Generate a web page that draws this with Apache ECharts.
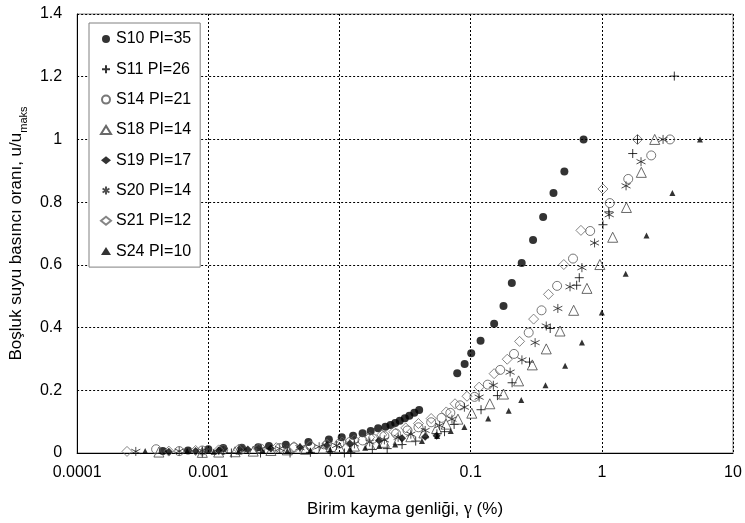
<!DOCTYPE html>
<html>
<head>
<meta charset="utf-8">
<script src="https://cdn.jsdelivr.net/npm/echarts@6/dist/echarts.min.js"></script>
<style>
html,body{margin:0;padding:0;background:#fff;}
#c{width:745px;height:523px;}
</style>
</head>
<body>
<div id="c"></div>
<script>
// ---- data ----
var seriesNames = ['S10 PI=35','S11 PI=26','S14 PI=21','S18 PI=14','S19 PI=17','S20 PI=14','S21 PI=12','S24 PI=10'];
var xTickLabels = ['0.0001','0.001','0.01','0.1','1','10'];
var yTickLabels = ['0','0.2','0.4','0.6','0.8','1','1.2','1.4'];

var s10x = [0.00045,0.0007,0.001,0.0013,0.0018,0.0024,0.0029,0.0039,0.0058,0.0083,0.0104,0.0127,0.015,0.0173,0.0197,0.0224,0.0245,0.0266,0.0288,0.0315,0.0341,0.0372,0.0405,0.079,0.090,0.101,0.119,0.151,0.178,0.206,0.245,0.299,0.357,0.428,0.518,0.726];
var s10y = [0.006,0.008,0.012,0.016,0.017,0.018,0.022,0.026,0.035,0.043,0.050,0.055,0.063,0.070,0.079,0.084,0.089,0.096,0.103,0.111,0.119,0.128,0.137,0.254,0.284,0.318,0.358,0.412,0.469,0.542,0.606,0.679,0.753,0.829,0.898,1.0];

var s11x = [0.0009,0.0015,0.0025,0.0042,0.006,0.0085,0.0109,0.0122,0.0178,0.0231,0.030,0.0381,0.0553,0.0632,0.0748,0.120,0.160,0.207,0.281,0.404,0.643,0.673,1.02,1.13,1.72,1.87,3.57];
var s11y = [0.0,0.0,0.0,0.0,0.002,0.004,0.0,0.001,0.011,0.014,0.027,0.038,0.061,0.068,0.091,0.138,0.183,0.224,0.29,0.397,0.535,0.559,0.728,0.769,0.955,1.0,1.202];

var s14x = [0.0004,0.0006,0.0009,0.0013,0.0018,0.0025,0.0035,0.0045,0.006,0.008,0.010,0.012,0.015,0.018,0.022,0.027,0.033,0.040,0.050,0.060,0.070,0.083,0.107,0.135,0.168,0.214,0.277,0.347,0.456,0.603,0.815,1.15,1.59,2.38,3.31];
var s14y = [0.012,0.006,0.008,0.010,0.012,0.014,0.016,0.018,0.022,0.026,0.030,0.035,0.040,0.046,0.054,0.062,0.072,0.082,0.098,0.112,0.128,0.152,0.179,0.218,0.265,0.316,0.384,0.455,0.533,0.62,0.708,0.797,0.874,0.949,1.0];

var s18x = [0.00042,0.0009,0.0012,0.0016,0.0022,0.003,0.004,0.0055,0.0075,0.010,0.013,0.017,0.022,0.028,0.035,0.044,0.055,0.065,0.080,0.102,0.14,0.178,0.232,0.295,0.377,0.48,0.61,0.77,0.966,1.21,1.54,2.0,2.53];
var s18y = [0.003,0.002,0.003,0.004,0.006,0.008,0.010,0.012,0.015,0.018,0.022,0.028,0.034,0.042,0.052,0.064,0.078,0.092,0.108,0.127,0.157,0.188,0.23,0.281,0.332,0.389,0.455,0.525,0.601,0.688,0.783,0.895,1.0];

var s19x = [0.0005,0.0008,0.0012,0.002,0.003,0.005,0.008,0.012,0.02,0.03,0.045,0.055];
var s19y = [0.004,0.006,0.008,0.011,0.014,0.018,0.024,0.03,0.04,0.047,0.052,0.055];

var s20x = [0.00028,0.0006,0.0009,0.0013,0.0018,0.0025,0.0035,0.005,0.007,0.0095,0.013,0.017,0.022,0.028,0.035,0.045,0.058,0.072,0.0896,0.116,0.149,0.2,0.246,0.31,0.377,0.462,0.572,0.705,0.88,1.14,1.53,1.99,2.93];
var s20y = [0.005,0.006,0.007,0.008,0.010,0.012,0.014,0.017,0.020,0.024,0.029,0.035,0.042,0.05,0.06,0.072,0.088,0.108,0.146,0.178,0.216,0.258,0.297,0.352,0.405,0.461,0.53,0.591,0.67,0.76,0.852,0.929,1.0];

var s21x = [0.00024,0.0005,0.0008,0.0012,0.0017,0.0024,0.0033,0.0045,0.006,0.008,0.0105,0.013,0.017,0.021,0.026,0.032,0.04,0.05,0.0652,0.076,0.0938,0.116,0.151,0.19,0.236,0.302,0.392,0.513,0.693,1.02,1.87];
var s21y = [0.005,0.006,0.008,0.010,0.012,0.014,0.017,0.020,0.024,0.029,0.035,0.042,0.05,0.058,0.068,0.08,0.094,0.11,0.131,0.157,0.181,0.21,0.253,0.299,0.356,0.427,0.506,0.601,0.71,0.842,1.0];

var s24x = [0.00033,0.00069,0.0011,0.0017,0.0026,0.004,0.006,0.0085,0.012,0.0157,0.0201,0.0266,0.0425,0.0556,0.0705,0.0896,0.136,0.195,0.243,0.372,0.525,0.705,1.0,1.52,2.19,3.45,5.6];
var s24y = [0.006,0.006,0.004,0.005,0.006,0.007,0.008,0.010,0.013,0.017,0.022,0.027,0.038,0.054,0.07,0.083,0.11,0.135,0.169,0.216,0.278,0.352,0.448,0.572,0.694,0.829,1.0];

// ---- chart ----
function zip(xs, ys){ return xs.map(function(x,i){ return [x, ys[i]]; }); }
var FONT = 'Liberation Sans, Arial, sans-serif';
var PLUS = 'path://M5,0 L5,10 M0,5 L10,5';
var STAR = 'path://M5,0 L5,10 M0.7,2.5 L9.3,7.5 M0.7,7.5 L9.3,2.5';
var open = function(c){ return {color:'rgba(0,0,0,0)', borderColor:c, borderWidth:1}; };

var defs = [
  {x:s10x, y:s10y, symbol:'circle', size:8, style:{color:'#000'}},
  {x:s11x, y:s11y, symbol:PLUS, size:9, style:open('#000')},
  {x:s14x, y:s14y, symbol:'circle', size:9, style:open('#555')},
  {x:s18x, y:s18y, symbol:'triangle', size:10, style:open('#444')},
  {x:s19x, y:s19y, symbol:'diamond', size:8, style:{color:'#000'}},
  {x:s20x, y:s20y, symbol:STAR, size:9, style:open('#222')},
  {x:s21x, y:s21y, symbol:'diamond', size:10, style:open('#666')},
  {x:s24x, y:s24y, symbol:'triangle', size:6, style:{color:'#000'}}
];

var series = defs.map(function(d,i){
  return {
    name: seriesNames[i], type:'scatter', data: zip(d.x, d.y),
    symbol: d.symbol, symbolSize: d.size, itemStyle: d.style,
    emphasis: {disabled:true}, animation:false
  };
});

var chart = echarts.init(document.getElementById('c'));
chart.setOption({
  backgroundColor:'#fff',
  animation:false,
  textStyle:{fontFamily:FONT},
  grid:{left:73, right:12, top:14, bottom:68, show:true, borderColor:'#808080', borderWidth:1, backgroundColor:'rgba(0,0,0,0)'},
  legend:{
    data: seriesNames, orient:'vertical', left:89, top:23,
    backgroundColor:'#fff', borderColor:'#808080', borderWidth:1,
    padding:[8,9,8,11], itemGap:14.3, itemWidth:10, itemHeight:8, itemTextGap:3,
    selectedMode:false,
    textStyle:{fontSize:16, color:'#000', fontFamily:FONT, lineHeight:16}
  },
  xAxis:{
    type:'log', logBase:10, min:0.0001, max:10,
    name:'{a|Birim kayma genliği, }{g|γ}{a| (%)}', nameLocation:'middle', nameGap:47,
    nameTextStyle:{rich:{a:{fontSize:17, color:'#000', fontFamily:FONT}, g:{fontSize:18, color:'#000', fontFamily:'Liberation Serif, Times New Roman, serif'}}},
    axisLine:{lineStyle:{color:'#000', width:1}},
    axisTick:{show:false},
    axisLabel:{fontSize:16, color:'#000', margin:12, fontFamily:FONT,
      formatter:function(v){ var k=Math.round(Math.log10(v))+4; return xTickLabels[k]; }},
    splitLine:{show:true, lineStyle:{color:'#000', type:[2,2], width:1}},
    minorTick:{show:false}
  },
  yAxis:{
    type:'value', min:0, max:1.4, interval:0.2,
    name:'{a|Boşluk suyu basıncı oranı, u/u}{s|maks}', nameLocation:'middle', nameGap:46,
    nameTextStyle:{rich:{a:{fontSize:17, color:'#000', fontFamily:FONT, lineHeight:20, verticalAlign:'bottom'}, s:{fontSize:11, color:'#000', fontFamily:FONT, lineHeight:20, verticalAlign:'bottom', padding:[0,0,-4,0]}}},
    axisLine:{show:true, lineStyle:{color:'#000', width:1}},
    axisTick:{show:false},
    axisLabel:{fontSize:16, color:'#000', margin:15, fontFamily:FONT,
      formatter:function(v){ return yTickLabels[Math.round(v/0.2)]; }},
    splitLine:{show:true, lineStyle:{color:'#000', type:[2,2], width:1}}
  },
  series: series
});
</script>
</body>
</html>
